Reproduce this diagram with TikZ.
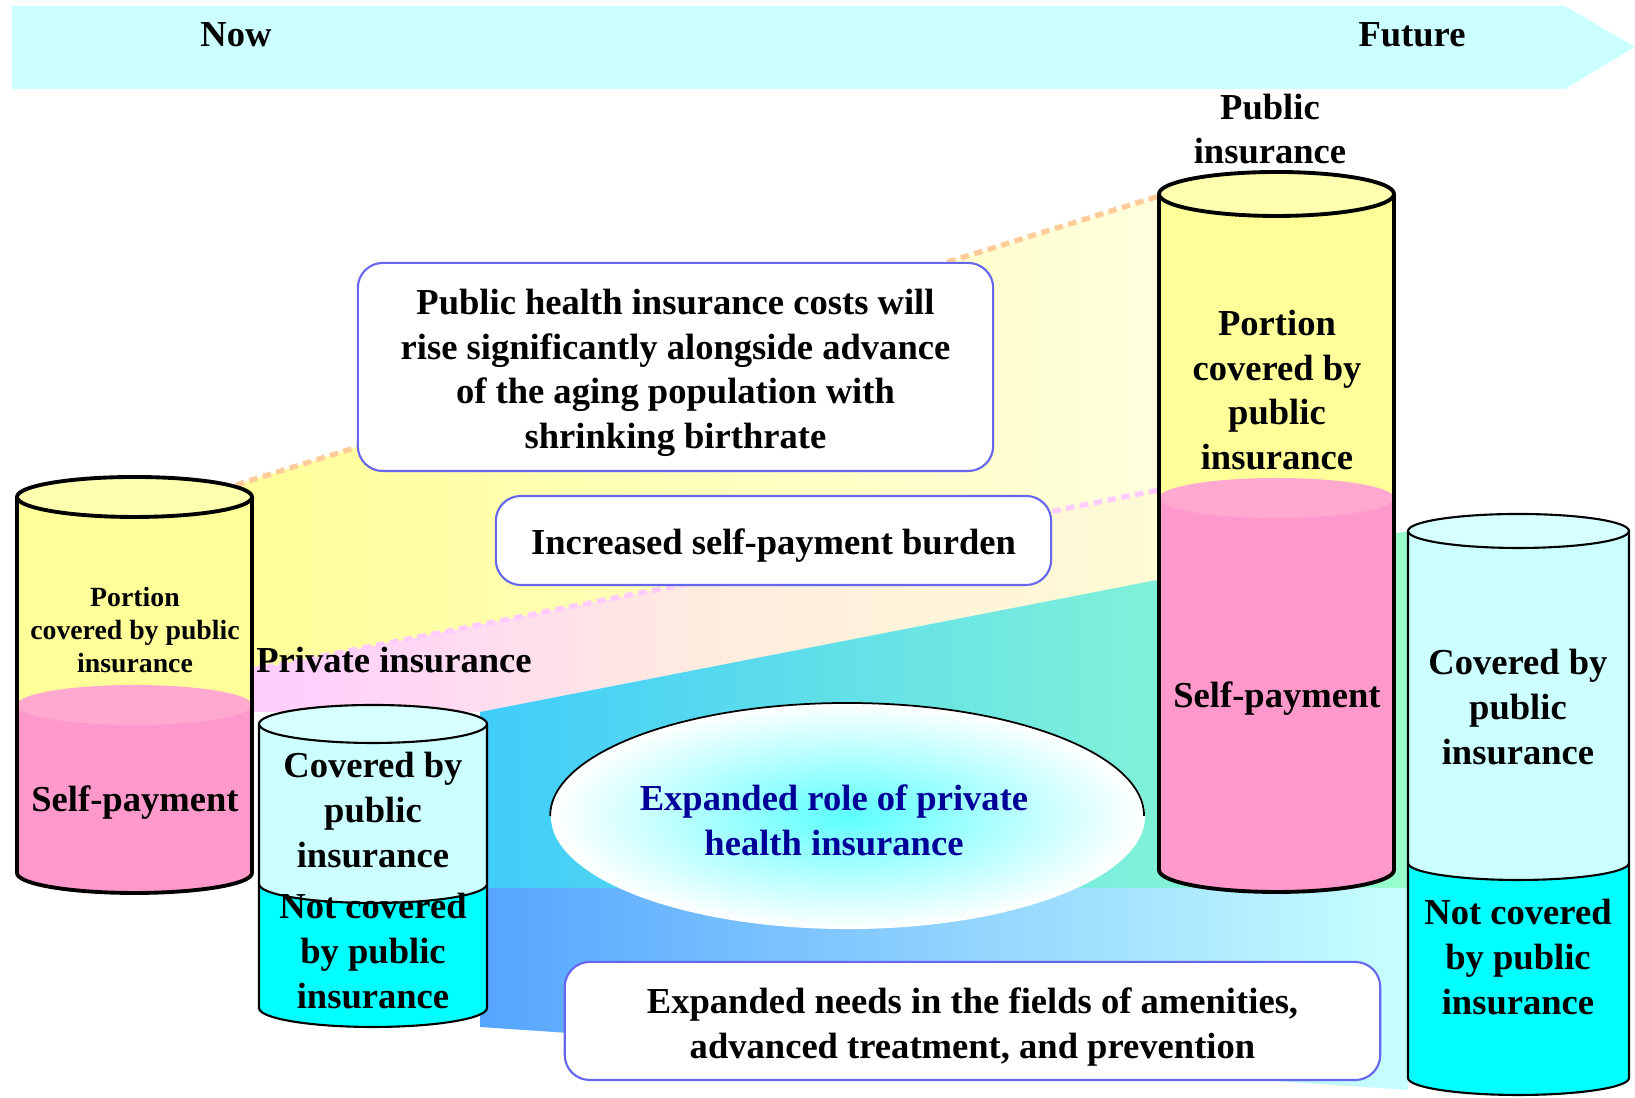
\documentclass[tikz,border=0pt]{standalone}
\usepackage{fontspec}
\setmainfont{Liberation Serif}
\usetikzlibrary{shapes.geometric}
\definecolor{bandcyan}{HTML}{CCFFFF}
\definecolor{pubyellow}{HTML}{FFFF99}
\definecolor{pubyellowlight}{HTML}{FFFFB0}
\definecolor{yellowfade}{HTML}{FFFFDD}
\definecolor{selfpink}{HTML}{FF99CC}
\definecolor{selfpinklight}{HTML}{FFA8D0}
\definecolor{covcyan}{HTML}{CCFFFF}
\definecolor{notcyan}{HTML}{00FFFF}
\definecolor{privpink}{HTML}{FFCCFF}
\definecolor{privpeach}{HTML}{FFECDF}
\definecolor{privcream}{HTML}{FFFBD5}
\definecolor{tealleft}{HTML}{40CCFA}
\definecolor{tealright}{HTML}{99FFCC}
\definecolor{blueleft}{HTML}{55A5FF}
\definecolor{blueright}{HTML}{C8FFFF}
\definecolor{boxblue}{HTML}{6666EE}
\definecolor{rolenavy}{HTML}{000099}
\definecolor{rolecyan}{HTML}{5CFFFF}
\definecolor{dashorange}{HTML}{FFCC99}
\definecolor{dashpink}{HTML}{FFCCFF}

\begin{document}
\begin{tikzpicture}[x=0.01cm, y=0.01cm]
	% Styles
	\tikzstyle{txt} = [font=\fontsize{10.4}{12.7}\selectfont\bfseries, align=center, inner sep=0pt]
	\tikzstyle{smalltxt} = [font=\fontsize{7.9}{9.5}\selectfont\bfseries, align=center, inner sep=0pt]
	\tikzstyle{msgbox} = [rectangle, rounded corners=0.25cm, draw=boxblue, line width=0.6pt, fill=white]
	\tikzstyle{cylthick} = [draw=black, line width=1.1pt]
	\tikzstyle{cylthin} = [draw=black, line width=0.6pt]
	\tikzstyle{trend} = [line width=1.5pt, dash pattern=on 2.4pt off 1.6pt]
	\useasboundingbox (0,0) rectangle (1635,1098);
	% Time band
	\fill[bandcyan] (12,1092) -- (1565,1092) -- (1635,1051) -- (1565,1009) -- (12,1009) -- cycle;
	\node (now) [txt] at (236,1063) {Now};
	\node (future) [txt] at (1412,1063) {Future};
	% Corner points of the cylinders
	\coordinate (nowtop) at (236,613);
	\coordinate (nowself) at (252,428);
	\coordinate (futtop) at (1159,902);
	\coordinate (futself) at (1159,608);
	\coordinate (privtop) at (480,386);
	\coordinate (privsplit) at (480,210);
	\coordinate (privbot) at (480,71);
	\coordinate (futprivtop) at (1408,567);
	\coordinate (futprivsplit) at (1408,210);
	\coordinate (futprivbot) at (1408,8);
	% Bands between now and future
	\shade[left color=pubyellow, right color=yellowfade] (nowtop) -- (futtop) -- (futself) -- (nowself) -- cycle;
	\shade[left color=privpink, right color=privcream, middle color=privpeach] (nowself) -- (futself) -- (1159,518) -- (privtop) -- (252,386) -- cycle;
	\shade[left color=tealleft, right color=tealright] (privtop) -- (futprivtop) -- (futprivsplit) -- (privsplit) -- cycle;
	\shade[left color=blueleft, right color=blueright] (privsplit) -- (futprivsplit) -- (futprivbot) -- (privbot) -- cycle;
	\draw[trend, dashorange] (nowtop) -- (futtop);
	\draw[trend, dashpink] (nowself) -- (futself);
	% Now: public insurance
	\fill[pubyellow] (17,601) rectangle (252,393);
	\fill[selfpink] (17,393) rectangle (252,225);
	\fill[selfpink] (134.5,225) ellipse [x radius=117.5, y radius=20];
	\fill[selfpinklight] (134.5,393) ellipse [x radius=117.5, y radius=20];
	\draw[cylthick, fill=pubyellowlight] (134.5,601) ellipse [x radius=117.5, y radius=20];
	\draw[cylthick] (17,601) -- (17,225) arc [start angle=180, end angle=360, x radius=117.5, y radius=20] -- (252,601);
	\node (nowpub) [smalltxt] at (135,468) {Portion\\covered by public\\insurance};
	\node (nowpay) [txt] at (135,295) {Self-payment};
	% Now: private insurance
	\fill[notcyan] (259,214) rectangle (487,90);
	\fill[notcyan] (373,90) ellipse [x radius=114, y radius=19];
	\fill[covcyan] (259,374) rectangle (487,214);
	\fill[covcyan] (373,214) ellipse [x radius=114, y radius=19];
	\draw[cylthin] (259,214) arc [start angle=180, end angle=360, x radius=114, y radius=19];
	\draw[cylthin, fill=covcyan!80!white] (373,374) ellipse [x radius=114, y radius=19];
	\draw[cylthin] (259,374) -- (259,90) arc [start angle=180, end angle=360, x radius=114, y radius=19] -- (487,374);
	\node (nowcov) [txt] at (373,288) {Covered by\\public\\insurance};
	\node (nownot) [txt] at (373,147) {Not covered\\by public\\insurance};
	\node (privlabel) [txt] at (394,438) {Private insurance};
	% Future: public insurance
	\fill[pubyellow] (1159,904) rectangle (1394,600);
	\fill[selfpink] (1159,600) rectangle (1394,228);
	\fill[selfpink] (1276.5,228) ellipse [x radius=117.5, y radius=22];
	\fill[selfpinklight] (1276.5,600) ellipse [x radius=117.5, y radius=20];
	\draw[cylthick, fill=pubyellowlight] (1276.5,904) ellipse [x radius=117.5, y radius=22];
	\draw[cylthick] (1159,904) -- (1159,228) arc [start angle=180, end angle=360, x radius=117.5, y radius=22] -- (1394,904);
	\node (publabel) [txt] at (1270,969) {Public\\insurance};
	\node (futpub) [txt] at (1277,708) {Portion\\covered by\\public\\insurance};
	\node (futpay) [txt] at (1277,399) {Self-payment};
	% Future: private insurance
	\fill[notcyan] (1408,235) rectangle (1629,20);
	\fill[notcyan] (1518.5,20) ellipse [x radius=110.5, y radius=17];
	\fill[covcyan] (1408,567) rectangle (1629,235);
	\fill[covcyan] (1518.5,235) ellipse [x radius=110.5, y radius=17];
	\draw[cylthin] (1408,235) arc [start angle=180, end angle=360, x radius=110.5, y radius=17];
	\draw[cylthin, fill=covcyan!80!white] (1518.5,567) ellipse [x radius=110.5, y radius=17];
	\draw[cylthin] (1408,567) -- (1408,20) arc [start angle=180, end angle=360, x radius=110.5, y radius=17] -- (1629,567);
	\node (futcov) [txt] at (1518,391) {Covered by\\public\\insurance};
	\node (futnot) [txt] at (1518,141) {Not covered\\by public\\insurance};
	% Messages
	\node (pubcost) [msgbox, minimum width=6.35cm, minimum height=2.08cm] at (675.5,731) {};
	\node (pubcosttext) [txt] at ([yshift=-0.06cm]pubcost.center) {Public health insurance costs will\\rise significantly alongside advance\\of the aging population with\\shrinking birthrate};
	\node (burden) [msgbox, minimum width=5.55cm, minimum height=0.89cm] at (773.5,557.5) {};
	\node (burdentext) [txt] at ([yshift=-0.055cm]burden.center) {Increased self-payment burden};
	\node (needs) [msgbox, minimum width=8.15cm, minimum height=1.18cm] at (972.5,77) {};
	\node (needstext) [txt] at ([yshift=-0.06cm]needs.center) {Expanded needs in the fields of amenities,\\advanced treatment, and prevention};
	\node (role) [ellipse, minimum width=5.94cm, minimum height=2.26cm, shading=radial, inner color=rolecyan, outer color=white] at (848,282) {};
	\draw[line width=0.5pt] (role.west) arc [start angle=180, end angle=0, x radius=297, y radius=113];
	\node (roletext) [txt, text=rolenavy] at (834,277.5) {Expanded role of private\\health insurance};
\end{tikzpicture}
\end{document}
